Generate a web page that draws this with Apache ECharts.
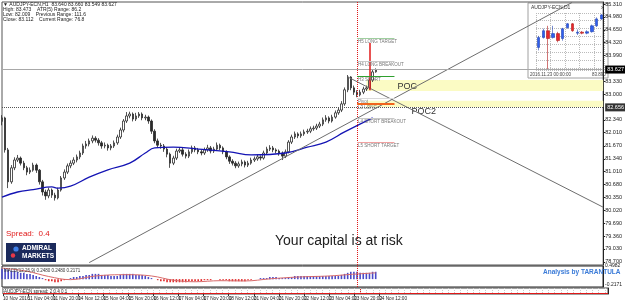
<!DOCTYPE html>
<html>
<head>
<meta charset="utf-8">
<script src="https://cdn.jsdelivr.net/npm/echarts@6/dist/echarts.min.js"></script>
<style>
html, body { margin: 0; padding: 0; background: #fff; }
#chart { width: 625px; height: 303px; }
</style>
</head>
<body>
<div id="chart"></div>
<script>
// H1 chart, one slot = 2 trading hours, a label every 8 slots
const SLOTS = 194
const timeLabels = ['10 Nov 2016', '11 Nov 04:00', '11 Nov 20:00', '14 Nov 12:00', '15 Nov 04:00', '15 Nov 20:00',
  '16 Nov 12:00', '17 Nov 04:00', '17 Nov 20:00', '18 Nov 12:00', '21 Nov 04:00', '21 Nov 20:00',
  '22 Nov 12:00', '23 Nov 04:00', '23 Nov 20:00', '24 Nov 12:00']

const priceTicks = [85.31, 84.98, 84.65, 84.32, 83.99, 83.33, 83.0, 82.34, 82.01, 81.67, 81.34,
  81.01, 80.68, 80.35, 80.02, 79.69, 79.36, 79.03, 78.7]

const firstOpen = 82.30
const closes = [
  82.39, 81.57, 80.75, 81.11, 81.31, 81.36, 81.23, 81.11, 81.00, 81.05,
  81.18, 81.05, 80.75, 80.49, 80.39, 80.54, 80.41, 80.34, 80.54, 80.85,
  81.00, 81.16, 81.23, 81.31, 81.39, 81.49, 81.67, 81.72, 81.80, 81.87,
  81.82, 81.75, 81.67, 81.69, 81.62, 81.67, 81.75, 81.90, 82.08, 82.31,
  82.44, 82.49, 82.36, 82.44, 82.49, 82.39, 82.41, 82.31, 82.05, 81.80,
  81.69, 81.67, 81.59, 81.46, 81.23, 81.36, 81.54, 81.57, 81.46, 81.41,
  81.52, 81.62, 81.57, 81.52, 81.49, 81.57, 81.62, 81.54, 81.59, 81.69,
  81.62, 81.52, 81.39, 81.28, 81.23, 81.16, 81.21, 81.26, 81.18, 81.23,
  81.31, 81.34, 81.39, 81.36, 81.49, 81.59, 81.62, 81.57, 81.54, 81.49,
  81.41, 81.52, 81.77, 81.90, 81.98, 81.93, 81.98, 82.03, 82.05, 82.11,
  82.13, 82.18, 82.23, 82.34, 82.39, 82.31, 82.41, 82.52, 82.59, 82.75,
  83.11, 83.44, 83.16, 83.05, 82.98, 83.05, 83.13, 83.16, 83.36, 83.57,
  83.627
]
const highs = [
  82.46, 82.42, 81.62, 81.18, 81.38, 81.44, 81.40, 81.29, 81.16, 81.12,
  81.24, 81.22, 81.08, 80.80, 80.55, 80.60, 80.58, 80.47, 80.60, 80.90,
  81.07, 81.22, 81.30, 81.38, 81.45, 81.55, 81.73, 81.80, 81.86, 81.94,
  81.92, 81.87, 81.80, 81.76, 81.73, 81.72, 81.81, 81.96, 82.14, 82.36,
  82.54, 82.55, 82.53, 82.52, 82.54, 82.53, 82.47, 82.45, 82.35, 82.10,
  81.86, 81.75, 81.72, 81.64, 81.50, 81.42, 81.60, 81.64, 81.62, 81.51,
  81.58, 81.68, 81.67, 81.62, 81.57, 81.63, 81.70, 81.67, 81.65, 81.76,
  81.73, 81.66, 81.56, 81.43, 81.33, 81.28, 81.27, 81.32, 81.30, 81.29,
  81.37, 81.40, 81.45, 81.43, 81.55, 81.65, 81.69, 81.67, 81.61, 81.58,
  81.53, 81.58, 81.82, 81.96, 82.04, 82.02, 82.04, 82.09, 82.11, 82.17,
  82.19, 82.24, 82.29, 82.40, 82.46, 82.43, 82.47, 82.58, 82.65, 82.82,
  83.17, 83.49, 83.46, 83.22, 83.10, 83.11, 83.19, 83.22, 83.42, 83.64,
  83.66
]
const lows = [
  82.20, 81.50, 80.59, 80.70, 81.05, 81.26, 81.17, 81.05, 80.92, 80.95,
  81.01, 80.98, 80.68, 80.40, 80.29, 80.33, 80.34, 80.27, 80.30, 80.50,
  80.80, 80.95, 81.10, 81.18, 81.25, 81.33, 81.44, 81.60, 81.66, 81.74,
  81.76, 81.68, 81.60, 81.61, 81.55, 81.56, 81.62, 81.70, 81.85, 82.02,
  82.26, 82.38, 82.30, 82.31, 82.39, 82.33, 82.33, 82.24, 81.98, 81.74,
  81.62, 81.60, 81.52, 81.38, 81.11, 81.18, 81.31, 81.49, 81.40, 81.35,
  81.36, 81.47, 81.51, 81.46, 81.43, 81.44, 81.52, 81.48, 81.49, 81.54,
  81.56, 81.46, 81.33, 81.21, 81.17, 81.10, 81.11, 81.15, 81.12, 81.13,
  81.19, 81.26, 81.29, 81.30, 81.32, 81.44, 81.54, 81.51, 81.48, 81.42,
  81.31, 81.36, 81.48, 81.72, 81.85, 81.87, 81.88, 81.93, 81.98, 82.00,
  82.06, 82.08, 82.13, 82.18, 82.29, 82.25, 82.27, 82.37, 82.47, 82.54,
  82.70, 83.05, 83.10, 82.98, 82.92, 82.94, 83.00, 83.08, 83.12, 83.31,
  83.549
]

// blue moving average, read at a few points [slot, price]
const maPoints = [[0, 80.36], [5, 80.49], [10, 80.55], [16, 80.62], [18, 80.59], [22, 80.64], [28, 80.87],
  [34, 81.06], [41, 81.23], [46, 81.49], [49, 81.62], [55, 81.64], [63, 81.59], [73, 81.52],
  [80, 81.44], [91, 81.49], [98, 81.64], [104, 81.77], [110, 82.03], [119, 82.39]]

// MACD histogram per slot
const macd = [
  0.40, 0.40, 0.36, 0.32, 0.32, 0.28, 0.24, 0.24, 0.20, 0.20,
  0.16, 0.12, 0.08, 0.04, -0.04, -0.08, -0.08, -0.12, -0.12, -0.08,
  -0.04, 0.00, 0.04, 0.08, 0.08, 0.12, 0.12, 0.16, 0.16, 0.20,
  0.20, 0.20, 0.16, 0.16, 0.16, 0.12, 0.12, 0.12, 0.16, 0.20,
  0.20, 0.20, 0.20, 0.16, 0.16, 0.16, 0.12, 0.08, 0.04, 0.00,
  -0.04, -0.08, -0.08, -0.12, -0.12, -0.12, -0.12, -0.12, -0.12, -0.12,
  -0.08, -0.08, -0.08, -0.08, -0.08, -0.04, -0.04, -0.04, 0.00, 0.00,
  -0.04, -0.04, -0.04, -0.08, -0.08, -0.08, -0.08, -0.08, -0.08, -0.04,
  -0.04, 0.00, 0.00, 0.04, 0.04, 0.04, 0.08, 0.08, 0.08, 0.04,
  0.04, 0.04, 0.08, 0.08, 0.12, 0.12, 0.12, 0.12, 0.12, 0.12,
  0.12, 0.12, 0.12, 0.12, 0.12, 0.12, 0.12, 0.12, 0.12, 0.16,
  0.20, 0.24, 0.28, 0.28, 0.28, 0.24, 0.24, 0.24, 0.24, 0.28,
  0.28
]
const signalPoints = [[0, 0.42], [8, 0.30], [15, 0.10], [22, -0.02], [30, 0.12], [40, 0.17], [48, 0.12],
  [55, -0.04], [62, -0.10], [70, -0.06], [78, -0.07], [86, 0.01], [95, 0.08], [105, 0.12], [112, 0.18], [120, 0.24]]

// pivot levels drawn right of the current bar
const pivots = [
  { name: 'H5 LONG TARGET', value: 84.44, color: '#9fcf9f', width: 1 },
  { name: 'H4 LONG BREAKOUT', value: 83.85, color: '#c8c8c8', width: 1 },
  { name: 'H3 SHORT', value: 83.47, color: '#2ea02e', width: 1 },
  { name: 'Pivot', value: 82.90, color: '#d8d8d8', width: 1 },
  { name: 'L3 LONG', value: 82.75, color: '#f0641e', width: 2 },
  { name: 'L4 SHORT BREAKOUT', value: 82.39, color: '#c8c8c8', width: 1 },
  { name: 'L5 SHORT TARGET', value: 81.77, color: '#f2a0a0', width: 1 }
]
const pocZone = [83.36, 83.08]
const poc2Zone = [82.83, 82.67]
const trendUp = [[28, 78.68], [183, 85.35]]
const trendDown = [[111, 83.44], [193, 80.10]]
const sessionSlot = 114
const moveArrow = [[118, 83.10], [118, 84.31]]
const bidPrice = 83.627
const prevLevel = 82.656

// daily inset, Nov 7 .. Nov 24: [open, close, low, high]
const dailyDays = ['7', '8', '9', '10', '11', '14', '15', '16', '17', '18', '21', '22', '23', '24']
const dailyOHLC = [
  [79.57, 80.79, 79.20, 81.00], [80.79, 81.64, 80.67, 81.89], [81.64, 80.67, 76.76, 82.25],
  [80.79, 81.28, 80.67, 82.25], [81.28, 80.42, 80.20, 81.50], [80.67, 81.89, 80.40, 82.00],
  [82.01, 82.50, 81.90, 82.60], [82.50, 81.64, 81.50, 82.60], [81.34, 81.46, 81.10, 81.80],
  [81.46, 81.34, 81.20, 81.60], [81.34, 81.52, 81.20, 81.70], [81.52, 82.25, 81.40, 82.40],
  [82.25, 83.11, 82.10, 83.30], [83.11, 83.60, 83.00, 83.70]
]

const C = {
  ink: '#1a1a1a',
  axis: '#222',
  blueMA: '#1414b4',
  macdUp: '#4a4ac8',
  macdDown: '#e02a2a',
  signal: '#d86a6a',
  red: '#e01818',
  trend: '#6e6e6e',
  poc: '#fbfbc4'
}
const FONT = '"Liberation Sans", Arial, sans-serif'

const categories = Array.from({ length: SLOTS }, (_, i) => String(i))
const candles = closes.map((c, i) => [i === 0 ? firstOpen : closes[i - 1], c, lows[i], highs[i]])

const chart = echarts.init(document.getElementById('chart'), null, { renderer: 'canvas' })

const hiddenX = (gi) => ({
  gridIndex: gi, type: 'category', data: categories, boundaryGap: false,
  axisLine: { show: false }, axisTick: { show: false }, axisLabel: { show: false }, splitLine: { show: false }
})

// small text helper for the graphic layer
const txt = (x, y, text, size, fill, weight) => ({
  type: 'text', x, y, z: 50,
  style: { text, fontSize: size, fontFamily: FONT, fontWeight: weight || 'normal', fill }
})

chart.setOption({
  animation: false,
  backgroundColor: '#fff',
  grid: [
    { left: 2, right: 17, top: 2, height: 263, show: true, borderColor: '#555', borderWidth: 1 },
    { left: 2, right: 17, top: 266, height: 21, show: true, borderColor: '#222', borderWidth: 1 },
    { left: 2, right: 17, top: 288, height: 6, show: true, borderColor: '#444', borderWidth: 1 },
    { left: 536, width: 68, top: 13, height: 57 }
  ],
  xAxis: [
    hiddenX(0),
    hiddenX(1),
    {
      gridIndex: 2, type: 'category', data: categories, boundaryGap: false,
      axisLine: { show: false },
      axisTick: { show: true, length: 2, lineStyle: { color: '#333' }, interval: (i) => i % 8 === 0 && i <= 120 },
      axisLabel: {
        show: true, interval: 0, fontSize: 4.7, color: C.axis, align: 'left', margin: 2, fontFamily: FONT,
        formatter: (v, i) => (i % 8 === 0 && timeLabels[i / 8]) ? timeLabels[i / 8] : ''
      },
      splitLine: { show: true, interval: (i) => i % 2 === 0, lineStyle: { color: '#c8c8c8', type: 'dotted' } }
    },
    {
      gridIndex: 3, type: 'category', data: dailyDays,
      axisLine: { show: false }, axisTick: { show: false }, axisLabel: { show: false },
      splitLine: { show: true, interval: 2, lineStyle: { color: '#bbb', type: 'dotted' } }
    }
  ],
  yAxis: [
    {
      gridIndex: 0, type: 'value', position: 'right', min: 78.618, max: 85.362,
      axisLine: { show: true, lineStyle: { color: '#222' } },
      axisTick: { show: true, length: 2, customValues: priceTicks, lineStyle: { color: '#222' } },
      axisLabel: { show: true, customValues: priceTicks, formatter: (v) => v.toFixed(3), fontSize: 5.5, color: C.axis, margin: 2, fontFamily: FONT },
      splitLine: { show: false }
    },
    {
      gridIndex: 1, type: 'value', position: 'right', min: -0.3, max: 0.5,
      axisLine: { show: true, lineStyle: { color: '#222' } },
      axisTick: { show: false },
      axisLabel: { show: true, customValues: [0.4982, -0.2171], formatter: (v) => v.toFixed(4), fontSize: 5, color: C.axis, margin: 2, fontFamily: FONT },
      splitLine: { show: false }
    },
    {
      gridIndex: 2, type: 'value', position: 'right', min: 0, max: 1,
      axisLine: { show: true, lineStyle: { color: '#222' } },
      axisTick: { show: false }, axisLabel: { show: false }, splitLine: { show: false }
    },
    {
      gridIndex: 3, type: 'value', min: 76.76, max: 83.84,
      axisLine: { show: false }, axisTick: { show: false }, axisLabel: { show: false },
      splitLine: { show: true, lineStyle: { color: '#bbb', type: 'dotted' } }
    }
  ],
  series: [
    {
      name: 'AUDJPY-ECN,H1',
      type: 'candlestick',
      xAxisIndex: 0, yAxisIndex: 0,
      barWidth: 2,
      data: candles,
      itemStyle: { color: '#ffffff', color0: '#2a2a2a', borderColor: '#2a2a2a', borderColor0: '#2a2a2a', borderWidth: 0.8 },
      markArea: {
        silent: true,
        itemStyle: { color: C.poc },
        label: { show: true, position: 'insideLeft', fontSize: 9, color: '#333', fontFamily: FONT },
        data: [
          [{ name: 'POC', coord: [117, pocZone[0]], label: { offset: [26, 1] } }, { coord: [SLOTS - 1, pocZone[1]] }],
          [{ name: 'POC2', coord: [117, poc2Zone[0]], label: { offset: [40, 8] } }, { coord: [SLOTS - 1, poc2Zone[1]] }]
        ]
      },
      markLine: {
        silent: true,
        symbol: 'none',
        animation: false,
        data: [
          [{ coord: trendUp[0], lineStyle: { color: C.trend, width: 1, type: 'solid' } }, { coord: trendUp[1] }],
          [{ coord: trendDown[0], lineStyle: { color: C.trend, width: 1, type: 'solid' } }, { coord: trendDown[1] }],
          {
            yAxis: bidPrice, lineStyle: { color: '#a8a8a8', width: 1, type: 'solid' },
            label: { show: true, position: 'end', formatter: bidPrice.toFixed(3), backgroundColor: '#000', color: '#fff', fontSize: 5.5, padding: [1, 2], distance: 2, fontFamily: FONT }
          },
          {
            yAxis: prevLevel, lineStyle: { color: '#555', width: 1, type: 'dotted' },
            label: { show: true, position: 'end', formatter: prevLevel.toFixed(3), backgroundColor: '#333', color: '#fff', fontSize: 5.5, padding: [1, 2], distance: 2, fontFamily: FONT }
          },
          { xAxis: sessionSlot, lineStyle: { color: C.red, width: 1, type: 'dotted' }, label: { show: false } },
          [{ coord: moveArrow[0], lineStyle: { color: C.red, width: 1.5, type: 'solid' } }, { coord: moveArrow[1] }]
        ].concat(pivots.map((p) => [
          {
            coord: [sessionSlot, p.value], lineStyle: { color: p.color, width: p.width, type: 'solid' },
            label: { show: true, position: 'insideStartBottom', formatter: p.name, fontSize: 4.5, color: '#777', distance: [1, 1], fontFamily: FONT }
          },
          { coord: [sessionSlot + 12, p.value] }
        ]))
      }
    },
    {
      name: 'MA',
      type: 'line',
      xAxisIndex: 0, yAxisIndex: 0,
      data: maPoints,
      smooth: 0.4,
      showSymbol: false,
      lineStyle: { color: C.blueMA, width: 1.3 }
    },
    {
      name: 'MACD',
      type: 'bar',
      xAxisIndex: 1, yAxisIndex: 1,
      data: macd.map((v) => ({ value: v, itemStyle: { color: v >= 0 ? C.macdUp : C.macdDown } })),
      barWidth: 1.6,
      markLine: {
        silent: true, symbol: 'none',
        data: [{ xAxis: sessionSlot, lineStyle: { color: C.red, width: 1, type: 'dotted' }, label: { show: false } }]
      }
    },
    {
      name: 'Signal',
      type: 'line',
      xAxisIndex: 1, yAxisIndex: 1,
      data: signalPoints,
      smooth: 0.4,
      showSymbol: false,
      lineStyle: { color: C.signal, width: 1 }
    },
    {
      name: 'spread',
      type: 'line',
      xAxisIndex: 2, yAxisIndex: 2,
      data: [],
      markLine: {
        silent: true, symbol: 'none',
        data: [
          { xAxis: sessionSlot, lineStyle: { color: C.red, width: 1, type: 'dotted' }, label: { show: false } },
          { yAxis: 0.1, lineStyle: { color: C.red, width: 1, type: 'solid' }, label: { show: false } }
        ]
      }
    },
    {
      name: 'AUDJPY-ECN,D1',
      type: 'candlestick',
      xAxisIndex: 3, yAxisIndex: 3,
      data: dailyOHLC,
      barWidth: 3,
      itemStyle: { color: '#2e5ff0', color0: '#e8262a', borderColor: '#1f3fb0', borderColor0: '#b01818', borderWidth: 0.6 }
    }
  ],
  graphic: [
    // inset frame (drawn under the daily candles)
    { type: 'rect', shape: { x: 528, y: 3, width: 80, height: 75 }, style: { fill: '#fff', stroke: '#a0a0a0', lineWidth: 1 }, z: -1 },
    txt(531, 5, 'AUDJPY-ECN,D1', 5, '#333'),
    txt(601, 4, 'x', 5.5, '#555'),
    txt(530, 72, '2016.11.23 00:00:00', 4.5, '#444'),
    txt(592, 72, '83.890', 4.5, '#444'),
    // header
    txt(3, 2, '\u25BC AUDJPY-ECN,H1  83.640 83.660 83.549 83.627', 5, C.ink),
    txt(3, 7, 'High: 83.473    ATR(5) Range: 86.2', 5, C.ink),
    txt(3, 12, 'Low: 82.009    Previous Range: 111.6', 5, C.ink),
    txt(3, 17, 'Close: 83.112    Current Range: 76.8', 5, C.ink),
    // panel captions
    txt(4, 268, 'MACD(12,26,9) 0.2480 0.2480 0.2171', 4.5, '#333'),
    txt(4, 289, 'AUDJPY-ECN spread: 2 0.4 0.1', 4.5, '#333'),
    // footer texts
    txt(6, 230, 'Spread:  0.4', 8, C.red),
    { type: 'rect', shape: { x: 6, y: 243, width: 50, height: 19 }, style: { fill: '#1b2a5c' }, z: 50 },
    { type: 'circle', shape: { cx: 16, cy: 249, r: 2.6 }, style: { fill: '#3f80e8' }, z: 51 },
    { type: 'circle', shape: { cx: 13, cy: 255.5, r: 2.2 }, style: { fill: '#e83848' }, z: 51 },
    txt(22, 245, 'ADMIRAL', 6.5, '#fff', 'bold'),
    txt(22, 253, 'MARKETS', 6.5, '#fff', 'bold'),
    txt(275, 234, 'Your capital is at risk', 14, '#222'),
    txt(543, 269, 'Analysis by TARANTULA', 6.5, '#3a7bd8', 'bold')
  ]
})
</script>
</body>
</html>
